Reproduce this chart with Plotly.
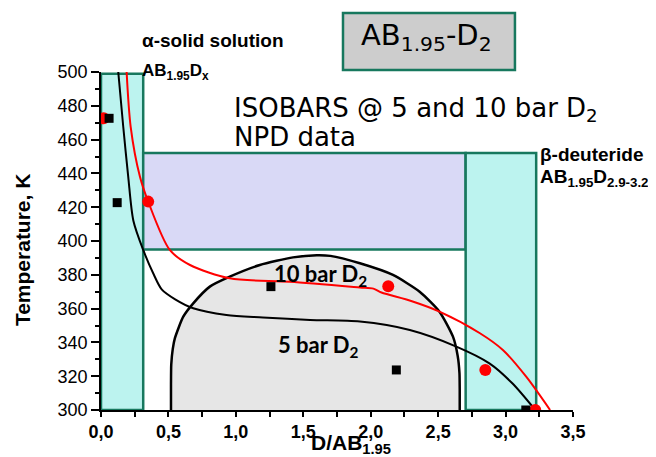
import plotly.graph_objects as go

# ---------------- data ----------------
# phase regions: composition bounds (D/AB1.95) and temperature bounds (K)
alpha_D = [0.0, 0.313]
alpha_T = [300, 499]
twophase_D = [0.313, 2.704]
twophase_T = [395, 452]
beta_D = [2.704, 3.227]
beta_T = [300, 452]

# miscibility dome (alpha + beta coexistence)
dome_D = [0.519, 0.519, 0.521, 0.532, 0.548, 0.61, 0.684, 0.807, 0.955, 1.178, 1.424,
          1.6, 1.7, 1.92, 2.165, 2.363, 2.51, 2.61, 2.645, 2.658, 2.66, 2.66]
dome_T = [300, 315, 327, 336, 342.5, 355.2, 363.1, 373, 378.9, 385.8, 390.3,
          391.6, 391.2, 386.8, 379.9, 370, 358.2, 343.4, 332, 322, 312, 300]

# isobar 5 bar D2
iso5_D = [0.128, 0.165, 0.202, 0.24, 0.313, 0.387, 0.45, 0.55, 0.684, 0.93,
          1.2, 1.55, 1.92, 2.29, 2.635, 2.88, 3.05, 3.22]
iso5_T = [500, 467.6, 438, 412, 394.7, 380.9, 371.4, 365.5, 360.2, 356.2,
          354.8, 353.3, 352.3, 347.3, 337.5, 327.6, 315.8, 300]

# isobar 10 bar D2
iso10_D = [0.19, 0.22, 0.289, 0.35, 0.51, 0.66, 0.955, 1.4, 1.92, 2.02, 2.08,
           2.3, 2.51, 2.81, 2.98, 3.153, 3.33]
iso10_T = [500, 467.6, 438, 423.3, 394.7, 385.8, 377.9, 375.9, 372.5, 371.8, 369.5,
           364.5, 358.2, 345.4, 335.5, 319.7, 300]

# NPD data points
npd10_D = [0.02, 0.35, 2.13, 2.85, 3.22]
npd10_T = [472.6, 423.3, 373.2, 323.7, 300]
npd5_D = [0.06, 0.12, 1.26, 2.19, 3.15]
npd5_T = [472.6, 422.7, 373.0, 323.7, 300]

xtick_vals = [0.0, 0.5, 1.0, 1.5, 2.0, 2.5, 3.0, 3.5]
xtick_text = ["0,0", "0,5", "1,0", "1,5", "2,0", "2,5", "3,0", "3,5"]
xminor_vals = [0.25, 0.75, 1.25, 1.75, 2.25, 2.75, 3.25]
ytick_vals = [300, 320, 340, 360, 380, 400, 420, 440, 460, 480, 500]
yminor_vals = [310, 330, 350, 370, 390, 410, 430, 450, 470, 490]

# ---------------- styles ----------------
CYAN = "#bcf3ef"
LAV = "#d9d9f6"
TEAL = "#17785e"
GRAY = "#e6e6e6"
RED = "#ff0000"
ARIAL = "Liberation Sans, Arial, sans-serif"
TAHOMA = "DejaVu Sans, Verdana, sans-serif"
CALIBRI = "Lato, Open Sans, sans-serif"


def rect(d, t):
    return [d[0], d[1], d[1], d[0], d[0]], [t[0], t[0], t[1], t[1], t[0]]


fig = go.Figure()

for d, t, c in [(alpha_D, alpha_T, CYAN), (twophase_D, twophase_T, LAV), (beta_D, beta_T, CYAN)]:
    rx, ry = rect(d, t)
    fig.add_trace(go.Scatter(x=rx, y=ry, mode="lines", fill="toself", fillcolor=c,
                             line=dict(color=TEAL, width=2.5), hoverinfo="skip"))

fig.add_trace(go.Scatter(x=dome_D, y=dome_T, mode="lines", fill="toself", fillcolor=GRAY,
                         line=dict(color="black", width=2.5, shape="spline", smoothing=0.6),
                         hoverinfo="skip"))

fig.add_trace(go.Scatter(x=iso5_D, y=iso5_T, mode="lines",
                         line=dict(color="black", width=2, shape="spline", smoothing=0.8)))
fig.add_trace(go.Scatter(x=iso10_D, y=iso10_T, mode="lines",
                         line=dict(color=RED, width=2, shape="spline", smoothing=0.8)))

fig.add_trace(go.Scatter(x=npd10_D, y=npd10_T, mode="markers",
                         marker=dict(symbol="circle", size=12, color=RED), cliponaxis=True))
fig.add_trace(go.Scatter(x=npd5_D, y=npd5_T, mode="markers",
                         marker=dict(symbol="square", size=9, color="black"), cliponaxis=True))

# title box
fig.add_shape(type="rect", xref="paper", yref="paper", x0=0.5127, x1=0.877, y0=1.006, y1=1.1746,
              fillcolor="#cdcdcd", line=dict(color=TEAL, width=2.5), layer="above")

ann = [
    dict(text="AB<sub>1.95</sub>-D<sub>2</sub>", x=0.69, y=1.103, xanchor="center", yanchor="middle",
         font=dict(family=TAHOMA, size=29, color="black")),
    dict(text="<b>α-solid solution</b>", x=0.0826, y=1.094, xanchor="left", yanchor="middle",
         font=dict(family=ARIAL, size=19, color="black")),
    dict(text="<b>AB<sub>1.95</sub>D<sub>x</sub></b>", x=0.0826, y=1.0, xanchor="left", yanchor="middle",
         font=dict(family=ARIAL, size=17, color="black")),
    dict(text="ISOBARS @ 5 and 10 bar D<sub>2</sub>", x=0.2775, y=0.888, xanchor="left", yanchor="middle",
         font=dict(family=TAHOMA, size=26, color="black")),
    dict(text="NPD data", x=0.2775, y=0.808, xanchor="left", yanchor="middle",
         font=dict(family=TAHOMA, size=26, color="black")),
    dict(text="<b>β-deuteride</b>", x=0.926, y=0.756, xanchor="left", yanchor="middle",
         font=dict(family=ARIAL, size=19, color="black")),
    dict(text="<b>AB<sub>1.95</sub>D<sub>2.9-3.2</sub></b>", x=0.926, y=0.685, xanchor="left", yanchor="middle",
         font=dict(family=ARIAL, size=19, color="black")),
    dict(text="<b>10 bar D<sub>2</sub></b>", x=0.362, y=0.40, xanchor="left", yanchor="middle",
         font=dict(family=CALIBRI, size=22, color="black")),
    dict(text="<b>5 bar D<sub>2</sub></b>", x=0.37, y=0.19, xanchor="left", yanchor="middle",
         font=dict(family=CALIBRI, size=22, color="black")),
    dict(text="<b>Temperature, K</b>", x=-0.166, y=0.475, xanchor="center", yanchor="middle",
         textangle=-90, font=dict(family=ARIAL, size=21, color="black")),
    dict(text="<b>D/AB<sub>1.95</sub></b>", x=0.53, y=-0.1, xanchor="center", yanchor="middle",
         font=dict(family=ARIAL, size=21, color="black")),
]
for a in ann:
    a.update(xref="paper", yref="paper", showarrow=False)
    fig.add_annotation(**a)

# the page body adds an 8px offset, so the figure is 8px smaller on each axis
fig.update_layout(
    width=648, height=449,
    margin=dict(l=93, r=83, t=64, b=47),
    paper_bgcolor="white", plot_bgcolor="white",
    showlegend=False,
    xaxis=dict(range=[0, 3.5], tickmode="array", tickvals=xtick_vals,
               ticktext=["<b>%s</b>" % s for s in xtick_text],
               ticks="outside", ticklen=5, tickwidth=1.5, tickcolor="black",
               showline=True, linecolor="black", linewidth=1.5,
               showgrid=False, zeroline=False,
               tickfont=dict(family=ARIAL, size=18, color="black"),
               minor=dict(tickmode="array", tickvals=xminor_vals, ticks="outside",
                          ticklen=5, tickwidth=1.5, tickcolor="black", showgrid=False)),
    yaxis=dict(range=[300, 500], tickmode="array", tickvals=ytick_vals,
               ticks="outside", ticklen=8, tickwidth=1.5, tickcolor="black",
               showline=True, linecolor="black", linewidth=1.5,
               showgrid=False, zeroline=False,
               tickfont=dict(family=ARIAL, size=18, color="black"),
               minor=dict(tickmode="array", tickvals=yminor_vals, ticks="outside",
                          ticklen=4, tickwidth=1.5, tickcolor="black", showgrid=False)),
)

fig.write_html("out.html")
